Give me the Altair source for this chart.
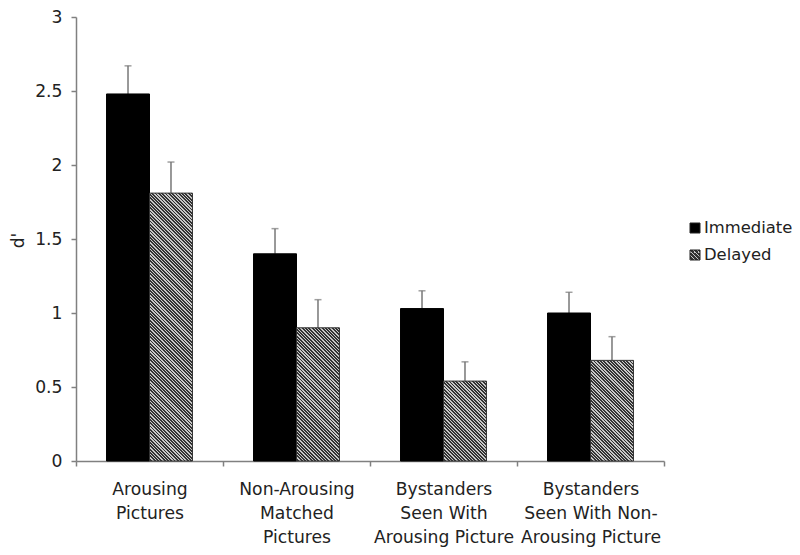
import altair as alt
import pandas as pd

# ---- data ----
categories = [
    "Arousing\nPictures",
    "Non-Arousing\nMatched\nPictures",
    "Bystanders\nSeen With\nArousing Picture",
    "Bystanders\nSeen With Non-\nArousing Picture",
]
conditions = ["Immediate", "Delayed"]
immediate = [2.48, 1.40, 1.03, 1.00]
immediate_err = [0.19, 0.17, 0.12, 0.14]
delayed = [1.81, 0.90, 0.54, 0.68]
delayed_err = [0.21, 0.19, 0.13, 0.16]
y_ticks = [0, 0.5, 1, 1.5, 2, 2.5, 3]

# ---- layout / style ----
W, H = 588, 444
Y_MAX = 3
PAD_OUTER = 0.71
FONT = "DejaVu Sans"
FS = 17.2
LEG_FS = 16.4
AXIS_GRAY = "#808080"
TEXT = "#222222"
ERR_GRAY = "#777777"
DARK = "#333333"
LIGHT = "#c8c8c8"
LEG_X, LEG_Y, LEG_STEP = 619, 211, 27

rows = []
for i, c in enumerate(categories):
    rows.append({"category": c, "condition": "Immediate", "value": immediate[i], "err": immediate_err[i]})
    rows.append({"category": c, "condition": "Delayed", "value": delayed[i], "err": delayed_err[i]})
df = pd.DataFrame(rows)

band = W / len(categories)
bar_w = band / (2 + 2 * PAD_OUTER)


def hatch(w, h, period=3.3):
    r = w / h
    s = (r + 1) / (r * r + 1)
    n = max(1, round((w + h) / period))
    stops = []
    for k in range(n):
        a, b, c = k / n, (k + 0.55) / n, (k + 1) / n
        stops += [
            alt.GradientStop(offset=a, color=DARK),
            alt.GradientStop(offset=b, color=DARK),
            alt.GradientStop(offset=b, color=LIGHT),
            alt.GradientStop(offset=c, color=LIGHT),
        ]
    return alt.LinearGradient(gradient="linear", x1=1, y1=0, x2=1 - r * s, y2=s, stops=stops)


x_enc = alt.X(
    "category:N",
    sort=categories,
    scale=alt.Scale(paddingInner=0, paddingOuter=0),
    axis=alt.Axis(
        title=None,
        labelAngle=0,
        labelExpr="split(datum.label, '\\n')",
        labelFont=FONT,
        labelFontSize=FS,
        labelColor=TEXT,
        labelLineHeight=24,
        labelPadding=14,
        labelOverlap=False,
        labelLimit=300,
        tickBand="extent",
        tickSize=5,
        tickColor=AXIS_GRAY,
        tickWidth=1.5,
        domainColor=AXIS_GRAY,
        domainWidth=1.5,
    ),
)
xoff_enc = alt.XOffset(
    "condition:N",
    sort=conditions,
    scale=alt.Scale(domain=conditions, paddingInner=0, paddingOuter=PAD_OUTER),
)
y_scale = alt.Scale(domain=[0, Y_MAX], nice=False)
y_enc = alt.Y(
    "value:Q",
    scale=y_scale,
    axis=alt.Axis(
        title="d'",
        values=y_ticks,
        format="~g",
        grid=False,
        labelFont=FONT,
        labelFontSize=FS,
        labelColor=TEXT,
        labelPadding=9,
        tickSize=5,
        tickColor=AXIS_GRAY,
        tickWidth=1.5,
        domainColor=AXIS_GRAY,
        domainWidth=1.5,
        titleFont=FONT,
        titleFontSize=FS,
        titleFontWeight="normal",
        titleColor=TEXT,
        titleX=-58,
        titleY=223,
        titleBaseline="middle",
        titleAlign="center",
    ),
)

base = alt.Chart(df)

bars = base.transform_filter(alt.datum.condition == "Immediate").mark_bar(
    fill="black", stroke="black", strokeWidth=1
).encode(x=x_enc, xOffset=xoff_enc, y=y_enc)

hatch_layers = []
for i, c in enumerate(categories):
    h_px = delayed[i] / Y_MAX * H
    hatch_layers.append(
        base.transform_filter(
            (alt.datum.category == c) & (alt.datum.condition == "Delayed")
        )
        .mark_bar(fill=hatch(bar_w, h_px), stroke="#333333", strokeWidth=1)
        .encode(x=x_enc, xOffset=xoff_enc, y=y_enc)
    )

err_base = base.transform_calculate(upper="datum.value + datum.err")
err_rule = err_base.mark_rule(color=ERR_GRAY, strokeWidth=1.5).encode(
    x=x_enc, xOffset=xoff_enc, y=alt.Y("value:Q", scale=y_scale), y2="upper:Q"
)
err_cap = err_base.mark_tick(color=ERR_GRAY, thickness=1.5, size=7).encode(
    x=x_enc, xOffset=xoff_enc, y=alt.Y("upper:Q", scale=y_scale)
)

# ---- legend (drawn as marks so the hatch can be shown) ----
leg_df = pd.DataFrame({"condition": conditions})
leg_layers = []
for j, cond in enumerate(conditions):
    fill = "black" if cond == "Immediate" else hatch(10, 10, 4)
    src = alt.Chart(leg_df).transform_filter(alt.datum.condition == cond)
    leg_layers.append(
        src.mark_square(size=100, fill=fill, stroke="#222222", strokeWidth=1, opacity=1).encode(
            x=alt.value(LEG_X), y=alt.value(LEG_Y + j * LEG_STEP)
        )
    )
    leg_layers.append(
        src.mark_text(align="left", baseline="middle", font=FONT, fontSize=LEG_FS, color=TEXT).encode(
            x=alt.value(LEG_X + 9), y=alt.value(LEG_Y + j * LEG_STEP), text="condition:N"
        )
    )

chart = (
    alt.layer(err_rule, err_cap, bars, *hatch_layers, *leg_layers)
    .properties(
        width=W,
        height=H,
        padding={"left": 68, "top": 9, "right": 128, "bottom": 86},
        autosize=alt.AutoSizeParams(type="none"),
    )
    .configure_view(stroke=None)
)

chart.save("out.html", embed_options={"renderer": "svg", "actions": False})
